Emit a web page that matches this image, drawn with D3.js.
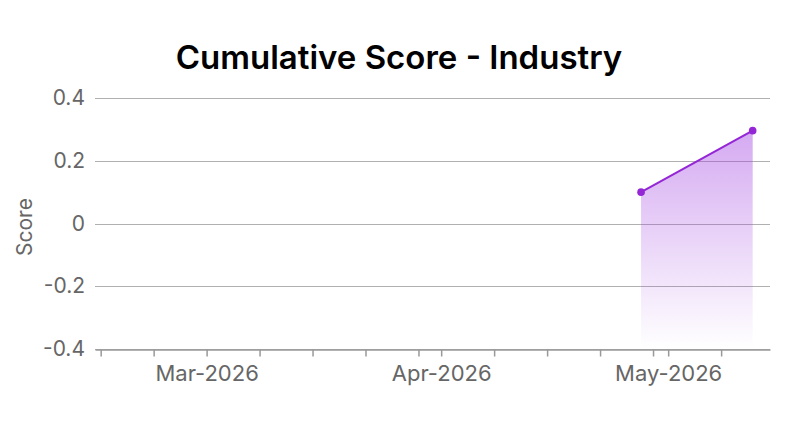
<!DOCTYPE html>
<html>
<head>
<meta charset="utf-8">
<script src="https://cdn.jsdelivr.net/npm/d3@7"></script>
<style>
  html, body { margin: 0; padding: 0; background: #fff; }
  svg { display: block; font-family: Inter, "Noto Sans", sans-serif; }
</style>
</head>
<body>
<svg id="chart" width="800" height="431"></svg>
<script>
// ---- data ----
const title = "Cumulative Score - Industry";
const yAxisTitle = "Score";
const dates = ["2026-04-27T10:00:00", "2026-05-12T04:00:00"];
const scores = [0.1, 0.296];
const xDomain = ["2026-02-14T06:00:00", "2026-05-14T11:00:00"];
const yTicks = [-0.4, -0.2, 0, 0.2, 0.4];
const yTickLabels = ["-0.4", "-0.2", "0", "0.2", "0.4"];
const yDomain = [-0.4, 0.4];

(function () {
// ---- layout ----
const svg = d3.select("#chart");
const mLeft = 95, mRight = 770, mTop = 98, mBottom = 349;
const parse = d3.isoParse;
const x = d3.scaleTime().domain(xDomain.map(parse)).range([mLeft, mRight]);
const y = d3.scaleLinear().domain(yDomain).range([mBottom, mTop]);
const data = dates.map((d, i) => ({ date: parse(d), value: scores[i] }));

// title
svg.append("text")
  .attr("x", 399).attr("y", 69)
  .attr("text-anchor", "middle")
  .attr("font-size", 33).attr("font-weight", 600)
  .attr("fill", "#000")
  .text(title);

// gridlines
svg.append("g")
  .selectAll("line").data(yTicks).join("line")
  .attr("x1", mLeft).attr("x2", mRight)
  .attr("y1", d => Math.round(y(d)) + 0.5).attr("y2", d => Math.round(y(d)) + 0.5)
  .attr("stroke", "#b0b0b0").attr("stroke-width", 1);

// y labels
const yAxis = d3.axisLeft(y).tickValues(yTicks)
  .tickFormat((d, i) => yTickLabels[i]).tickSize(0).tickPadding(10);
const gy = svg.append("g").attr("transform", `translate(${mLeft},0)`).call(yAxis);
gy.select(".domain").remove();
gy.selectAll("text").attr("font-size", 21).attr("fill", "#666").attr("font-family", "Inter, sans-serif");

// y axis title
svg.append("text")
  .attr("transform", `translate(32,227) rotate(-90)`)
  .attr("text-anchor", "middle")
  .attr("font-size", 21).attr("fill", "#666")
  .text(yAxisTitle);

// area gradient
const defs = svg.append("defs");
const grad = defs.append("linearGradient").attr("id", "areaGrad")
  .attr("gradientUnits", "userSpaceOnUse")
  .attr("x1", 0).attr("x2", 0).attr("y1", y(0.3)).attr("y2", mBottom);
grad.append("stop").attr("offset", 0).attr("stop-color", "#a040e0").attr("stop-opacity", 0.45);
grad.append("stop").attr("offset", 1).attr("stop-color", "#a040e0").attr("stop-opacity", 0);

const area = d3.area().x(d => x(d.date)).y0(y(-0.4)).y1(d => y(d.value));
svg.append("path").datum(data)
  .attr("d", area).attr("fill", "url(#areaGrad)");

const line = d3.line().x(d => x(d.date)).y(d => y(d.value));
svg.append("path").datum(data)
  .attr("d", line).attr("fill", "none")
  .attr("stroke", "#9426d6").attr("stroke-width", 2);

svg.append("g").selectAll("circle").data(data).join("circle")
  .attr("cx", d => x(d.date)).attr("cy", d => y(d.value))
  .attr("r", 3.8).attr("fill", "#9426d6");

// x axis
const tickDates = x.ticks(d3.timeDay.every(7));
const xAxis = d3.axisBottom(x).tickValues(tickDates)
  .tickFormat(d => d.getDate() === 1 ? d3.timeFormat("%b-%Y")(d) : "")
  .tickSize(7).tickPadding(9).tickSizeOuter(0);
const gx = svg.append("g").attr("transform", `translate(0,${mBottom + 0.5})`).call(xAxis);
gx.select(".domain").attr("stroke", "#999").attr("stroke-width", 1.5);
gx.selectAll(".tick line").attr("stroke", "#999").attr("stroke-width", 1.5);
gx.selectAll("text").attr("font-size", 22).attr("fill", "#666").attr("font-family", "Inter, sans-serif");
})();
</script>
</body>
</html>
